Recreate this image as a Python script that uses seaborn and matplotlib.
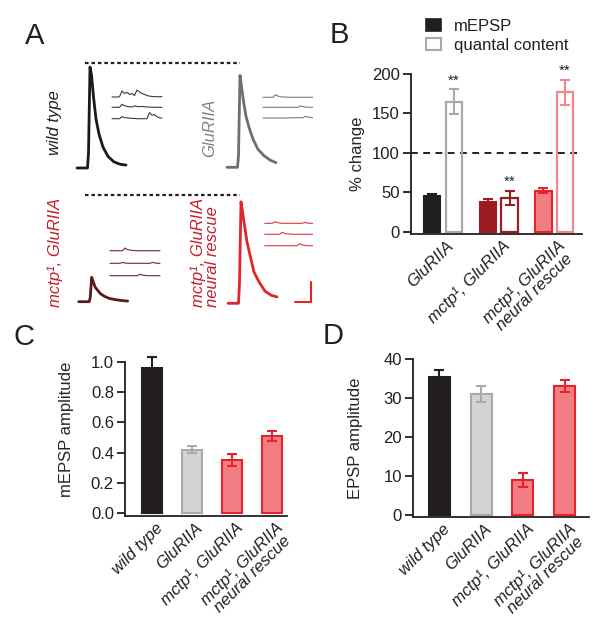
import matplotlib
matplotlib.use("Agg")
import matplotlib.pyplot as plt
import matplotlib.transforms as mtransforms
from matplotlib.patches import Patch
import seaborn as sns
import pandas as pd

# ---------------- data ----------------
# panel B: % change relative to wild type
b_groups = ['GluRIIA', 'mctp¹, GluRIIA', 'mctp¹, GluRIIA\nneural rescue']
b_mepsp = [45, 37, 52]
b_mepsp_err = [3, 4, 3]
b_qc = [165, 43, 177]
b_qc_err = [16, 9, 16]

# panels C and D
genotypes = ['wild type', 'GluRIIA', 'mctp¹, GluRIIA', 'mctp¹, GluRIIA\nneural rescue']
mepsp_amp = [0.96, 0.42, 0.35, 0.51]
mepsp_err = [0.07, 0.025, 0.04, 0.03]
epsp_amp = [35.5, 31, 9, 33]
epsp_err = [1.8, 2.1, 1.8, 1.5]

# panel A: example EPSP traces (ms, mV)
epsp_t = [0, 16.8, 18.4, 20.8, 23.2, 26.4, 30.4, 35.2, 41.6, 49.6, 59.2, 68.8, 78.4]
epsp_wt = [0, 0, 5.2, 34.8, 32.1, 24.5, 16.9, 11.7, 7.2, 4.0, 2.1, 1.3, 1.0]
epsp_glu = [0, 0, 4.1, 31.7, 27.9, 22.8, 17.6, 13.8, 9.7, 6.2, 4.0, 2.5, 1.6]
epsp_mctp = [0, 0, 1.4, 8.4, 6.9, 5.0, 3.9, 2.7, 1.8, 1.1, 0.7, 0.4, 0.2]
epsp_res = [0, 0, 6.9, 35.0, 31.5, 26.9, 21.2, 16.6, 10.8, 7.4, 4.2, 2.8, 2.2]

# panel A: example mini sweeps (ms, mV)
mini_t = [0, 4, 8, 12, 16, 20, 24, 28, 32, 36, 40, 44, 48, 52, 56, 60, 64, 68, 72, 76, 80]
mini_wt = [
    [0, 0, 0, 0.1, 2.1, 1.2, 1.6, 0.9, 1.2, 0.5, 2.4, 1.7, 1.2, 0.9, 0.5, 0.3, 0.2, 0.1, 0.1, 0.1, 0.1],
    [0, 0, 0, 0, 1.0, 0.6, 0.3, 0.2, 0.1, 0.5, 0.3, 0.2, 0.3, 0.2, 0.1, 0.1, 0, 0, 0, 0, 0],
    [0, 0, 0, 0, 0.7, 0.4, 0.3, 0.2, 0.1, 0.1, 0, 0, 0, 0, 0, 2.1, 1.2, 1.4, 0.7, 0.3, 0.2],
]
mini_glu = [
    [0, 0, 0, 0, 0, 0.9, 0.4, 0.2, 0.1, 0.1, 0, 0, 0, 0, 0, 0, 0, 0, 0, 0, 0],
    [0, 0, 0, 0, 0, 0, 0, 0, 0, 0, 0, 0, 0, 0, 0, 0.5, 0.2, 0.1, 0, 0, 0],
    [0, 0, 0, 0, 0, 0, 0, 0, 0, 0, 0, 0.1, 0.1, 0.1, 0.1, 0.1, 0.1, 0.6, 0.3, 0.2, 0.1],
]
mini_mctp = [
    [0, 0, 0, 0, 0, 0, 0.9, 0.4, 0.2, 0.1, 0, 0, 0, 0, 0, 0, 0, 0, 0, 0, 0],
    [0, 0, 0, 0, 0, 0.3, 0.1, 0, 0, 0, 0, 0, 0, 0, 0, 0, 0, 0.3, 0.1, 0, 0],
    [0, 0, 0, 0, 0, 0, 0, 0, 0, 0, 0, 0, 0.5, 0.2, 0.1, 0, 0, 0, 0, 0, 0],
]
mini_res = [
    [0, 0, 0, 0, 0.5, 0.3, 0.1, 0, 0, 0, 0, 0, 0, 0, 0, 0, 0.3, 0.1, 0, 0, 0],
    [0, 0, 0, 0, 0, 0, 0, 0.7, 0.3, 0.1, 0.1, 0, 0, 0, 0, 0, 0, 0, 0, 0, 0],
    [0, 0, 0, 0, 0, 0, 0, 0, 0, 0, 0, 0, 0, 0, 0.7, 0.3, 0.1, 0, 0, 0, 0],
]
scale_ms, scale_mv = 25, 7

# ---------------- style ----------------
sns.set_style('ticks')
plt.rcParams['font.family'] = ['Liberation Sans', 'DejaVu Sans']
plt.rcParams['axes.linewidth'] = 1.3
plt.rcParams['axes.edgecolor'] = '#231f20'
plt.rcParams['xtick.color'] = '#231f20'
plt.rcParams['ytick.color'] = '#231f20'
plt.rcParams['text.color'] = '#231f20'
FS = 12

BLACK = '#231f20'
GRAY_FILL, GRAY_EDGE = '#d1d3d4', '#a7a9ac'
PINK_FILL, RED_EDGE = '#f37d84', '#e3242b'
DARK_RED = '#9b1c21'
PINK_OPEN = '#f0888c'
LABEL_RED = '#c41e2a'

W, H = 613, 628
fig = plt.figure(figsize=(W / 100, H / 100), dpi=100)


def rect(left, top, right, bottom):
    return [left / W, 1 - bottom / H, (right - left) / W, (bottom - top) / H]


# ---------------- panel A ----------------
PX_PER_MS, PX_PER_MV = 0.625, 2.9
ax_a = fig.add_axes(rect(0, 0, 313, 320))
ax_a.set_xlim(0, 313 / PX_PER_MS)
ax_a.set_ylim(0, 320 / PX_PER_MV)
ax_a.axis('off')


def at(px, py):
    return px / PX_PER_MS, (320 - py) / PX_PER_MV


panels_a = [
    (epsp_wt, (77, 168), '#1a1a1a', mini_wt, (112, [97, 107.3, 118.7]), '#3a3a3a'),
    (epsp_glu, (227, 167.3), '#6d6e71', mini_glu, (263, [97.3, 107.3, 118]), '#7a7b7e'),
    (epsp_mctp, (78.7, 301.7), '#5b1a1e', mini_mctp, (110, [250.7, 263.3, 275.7]), '#6e2a2e'),
    (epsp_res, (228, 303.3), '#e3242b', mini_res, (264.7, [223.3, 234.3, 245.7]), '#d9363c'),
]
for epsp, origin, col, minis, (mx, mys), mcol in panels_a:
    t0, v0 = at(*origin)
    ax_a.plot([t + t0 for t in epsp_t], [v + v0 for v in epsp], color=col, lw=2.0,
              solid_joinstyle='round', solid_capstyle='round')
    for sweep, my in zip(minis, mys):
        s0, w0 = at(mx, my)
        ax_a.plot([t + s0 for t in mini_t], [v + w0 for v in sweep], color=mcol, lw=0.8)

# dotted reference lines at wild type peak level
for py in (63.3, 195):
    x0, y0 = at(85, py)
    x1, _ = at(240, py)
    ax_a.plot([x0, x1], [y0, y0], color=BLACK, lw=1.6, ls=(0, (1.6, 1.3)))

# scale bar
sx, sy = at(311, 302.3)
ax_a.plot([sx - scale_ms, sx, sx], [sy, sy, sy + scale_mv], color=RED_EDGE, lw=1.5)

label_kw = dict(rotation=90, style='italic', fontsize=FS, va='center')
fig.text(55 / W, 1 - 123 / H, 'wild type', color=BLACK, ha='center', **label_kw)
fig.text(210 / W, 1 - 128 / H, 'GluRIIA', color='#808285', ha='center', **label_kw)
fig.text(55 / W, 1 - 252 / H, 'mctp¹, GluRIIA', color=LABEL_RED, ha='center', **label_kw)
fig.text(205 / W, 1 - 252 / H, 'mctp¹, GluRIIA\nneural rescue', color=LABEL_RED,
         ha='center', multialignment='left', linespacing=0.95, **label_kw)


def style_axis(ax, ylabel, label_x):
    sns.despine(ax=ax)
    ax.tick_params(axis='y', length=6, width=1.3, labelsize=FS, pad=2)
    ax.tick_params(axis='x', length=0, labelsize=FS, pad=3)
    ax.set_xlabel('')
    ax.set_ylabel(ylabel, fontsize=FS)
    ax.yaxis.set_label_coords(label_x, 0.5)


def add_errors(ax, bars, means, errs, colors):
    for bar, m, e, c in zip(bars, means, errs, colors):
        x = bar.get_x() + bar.get_width() / 2
        ax.errorbar(x, m, yerr=e, color=c, capsize=3.6, elinewidth=1.5, capthick=1.5,
                    zorder=4, clip_on=False)


shift = mtransforms.ScaledTranslation(3 / 100, 0, fig.dpi_scale_trans)


def tick_labels(ax, labels):
    ax.set_xticks(range(len(labels)))
    ax.set_xticklabels(labels, rotation=45, ha='right', rotation_mode='anchor',
                       style='italic', fontsize=FS, multialignment='center',
                       linespacing=0.95)
    for lab in ax.get_xticklabels():
        lab.set_transform(lab.get_transform() + shift)


# ---------------- panel B ----------------
ax_b = fig.add_axes(rect(411, 74, 582, 234))
df_b = pd.DataFrame({
    'group': b_groups * 2,
    'measure': ['mEPSP'] * 3 + ['quantal content'] * 3,
    'value': b_mepsp + b_qc,
})
sns.barplot(data=df_b, x='group', y='value', hue='measure', width=0.78, gap=0.25,
            errorbar=None, palette=['k', 'w'], saturation=1, legend=False, ax=ax_b,
            zorder=2)
b_fill = [BLACK, DARK_RED, PINK_FILL]
b_edge = [BLACK, DARK_RED, RED_EDGE]
b_open = [GRAY_EDGE, DARK_RED, PINK_OPEN]
for bar, fc, ec in zip(ax_b.containers[0], b_fill, b_edge):
    bar.set_facecolor(fc)
    bar.set_edgecolor(ec)
    bar.set_linewidth(1.5)
for bar, ec in zip(ax_b.containers[1], b_open):
    bar.set_facecolor((1, 1, 1, 0))
    bar.set_edgecolor(ec)
    bar.set_linewidth(1.6)
add_errors(ax_b, ax_b.containers[0], b_mepsp, b_mepsp_err, b_edge)
add_errors(ax_b, ax_b.containers[1], b_qc, b_qc_err, b_open)
for bar, m, e in zip(ax_b.containers[1], b_qc, b_qc_err):
    ax_b.annotate('**', (bar.get_x() + bar.get_width() / 2, m + e), xytext=(0, 1),
                  textcoords='offset points', ha='center', va='bottom', fontsize=FS - 1)
ax_b.axhline(100, color=BLACK, lw=1.4, ls=(0, (3.5, 2.8)), zorder=1)
ax_b.set_ylim(-3, 200)
ax_b.set_xlim(-0.58, 2.5)
ax_b.set_yticks([0, 50, 100, 150, 200])
style_axis(ax_b, '% change', -0.27)
tick_labels(ax_b, b_groups)

handles = [Patch(facecolor=BLACK, edgecolor=BLACK, lw=1.2),
           Patch(facecolor='white', edgecolor=GRAY_EDGE, lw=1.5)]
fig.legend(handles, ['mEPSP', 'quantal content'], loc='upper left',
           bbox_to_anchor=(426 / W, 1 - 19 / H), frameon=False, fontsize=FS,
           handlelength=0.9, handleheight=0.7, handletextpad=0.75, labelspacing=0.25,
           borderpad=0, borderaxespad=0)

# ---------------- panels C and D ----------------
cd_fill = [BLACK, GRAY_FILL, PINK_FILL, PINK_FILL]
cd_edge = [BLACK, GRAY_EDGE, RED_EDGE, RED_EDGE]


def amp_panel(r, values, errs, ylim, xlim, yticks, ylabel, label_x, fmt):
    ax = fig.add_axes(r)
    df = pd.DataFrame({'genotype': genotypes, 'value': values})
    sns.barplot(data=df, x='genotype', y='value', hue='genotype', palette=cd_fill,
                saturation=1, width=0.5, errorbar=None, legend=False, ax=ax, zorder=2)
    bars = sorted(ax.patches, key=lambda p: p.get_x())
    for bar, ec in zip(bars, cd_edge):
        bar.set_edgecolor(ec)
        bar.set_linewidth(1.5)
    add_errors(ax, bars, values, errs, cd_edge)
    ax.set_ylim(*ylim)
    ax.set_xlim(*xlim)
    ax.set_yticks(yticks)
    ax.set_yticklabels([fmt.format(v) for v in yticks])
    style_axis(ax, ylabel, label_x)
    tick_labels(ax, genotypes)
    return ax


ax_c = amp_panel(rect(125, 362, 287, 516), mepsp_amp, mepsp_err, (-0.02, 1.0),
                 (-0.675, 3.375), [0, 0.2, 0.4, 0.6, 0.8, 1.0], 'mEPSP amplitude',
                 -0.315, '{:.1f}')
ax_c.yaxis.set_label_coords(-0.315, 0.56)
ax_d = amp_panel(rect(413, 359, 589, 517), epsp_amp, epsp_err, (-0.5, 40),
                 (-0.63, 3.58), [0, 10, 20, 30, 40], 'EPSP amplitude', -0.284, '{:.0f}')

# panel letters
for letter, (px, py) in zip('ABCD', [(35, 36), (339, 35), (24, 337), (333, 336)]):
    fig.text(px / W, 1 - py / H, letter, fontsize=21, ha='center', va='center')

fig.savefig('out.png', dpi=100)
